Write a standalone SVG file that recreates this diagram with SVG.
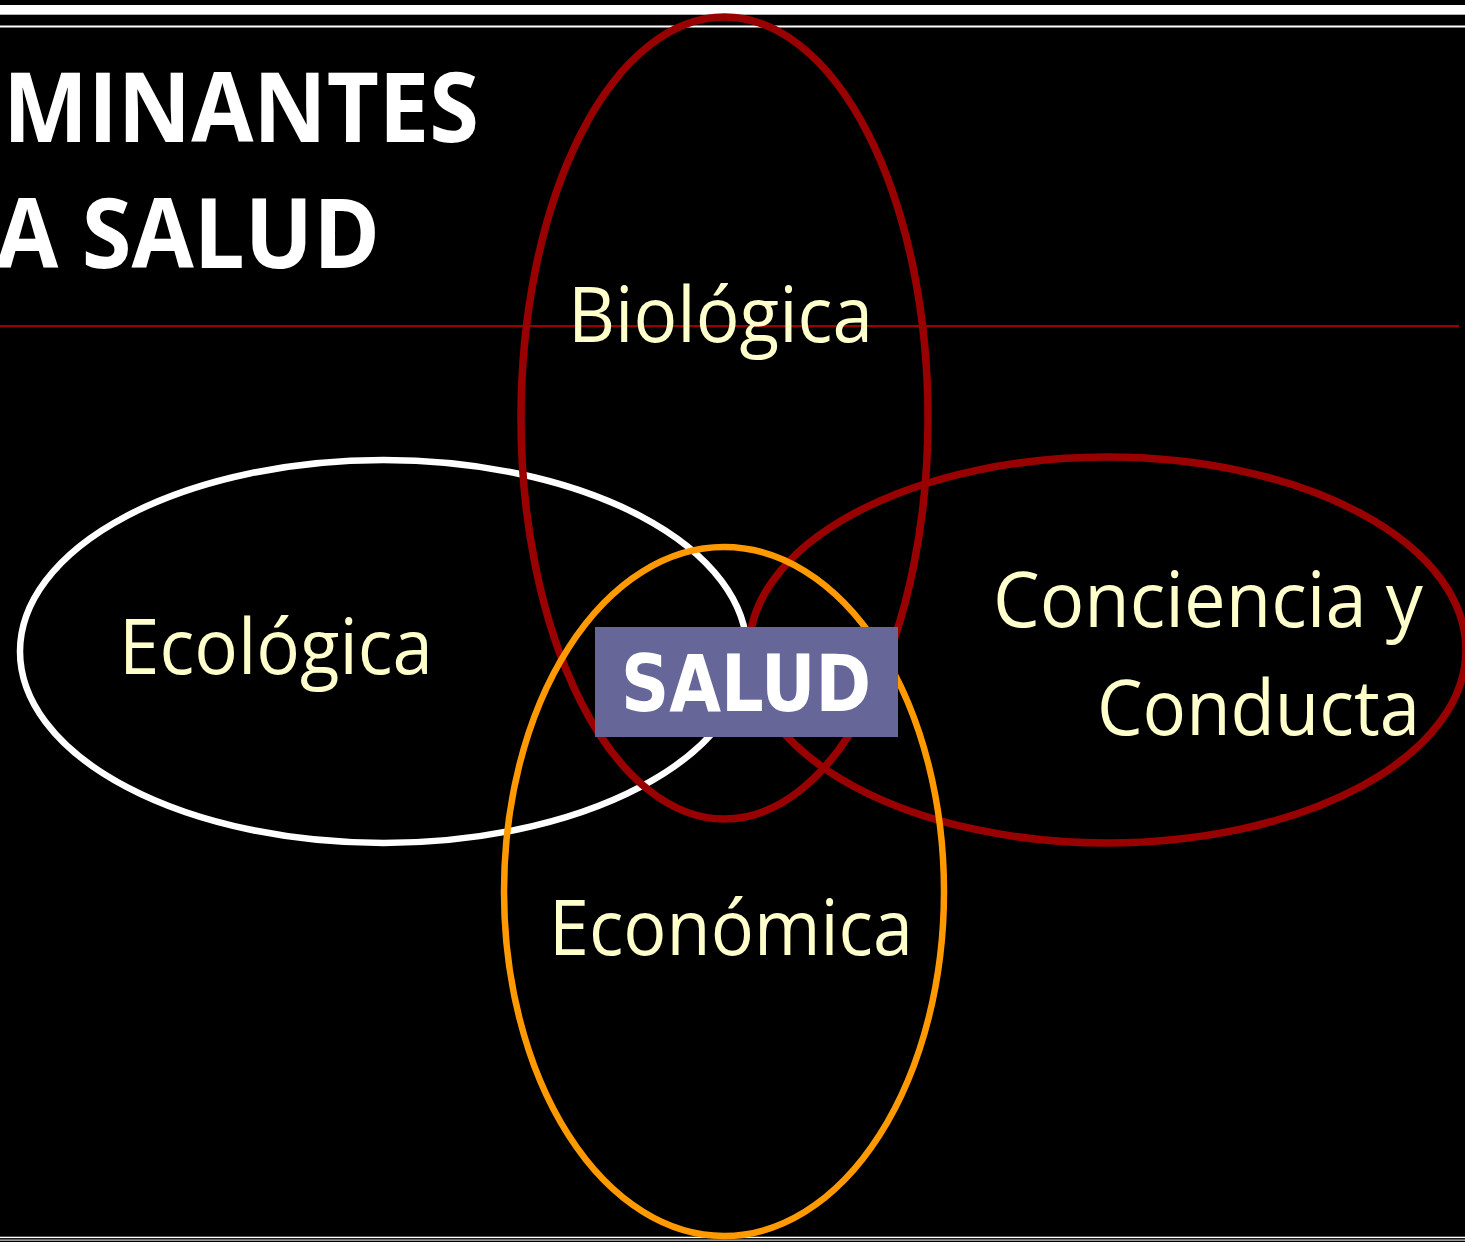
<svg xmlns="http://www.w3.org/2000/svg" width="1465" height="1242" viewBox="0 0 1465 1242">
<style>
.lbl{font-family:"Open Sans","Noto Sans","Liberation Sans",sans-serif;font-size:76px;fill:#FFFFCC}
.title{font-family:"Open Sans","Noto Sans","Liberation Sans",sans-serif;font-size:97px;font-weight:bold;fill:#FFFFFF}
.ell{fill:none}
</style>
<rect x="0" y="0" width="1465" height="1242" fill="#000000"/>
<g id="frame">
<rect x="0" y="5" width="1465" height="9.7" fill="#FFFFFF"/>
<rect x="0" y="25.5" width="1465" height="2" fill="#FFFFFF"/>
<rect x="0" y="1236.7" width="1465" height="1.4" fill="#FFFFFF"/>
<rect x="0" y="1239.6" width="1465" height="1" fill="#FFFFFF"/>
<rect x="0" y="325" width="1459" height="2.2" fill="#990000"/>
</g>
<g id="title">
<text class="title" x="3" y="142" textLength="476" lengthAdjust="spacingAndGlyphs">MINANTES</text>
<text class="title" x="-4" y="268" textLength="384" lengthAdjust="spacingAndGlyphs">A SALUD</text>
</g>
<g id="connectors"></g>
<g id="ecologica">
<ellipse class="ell" cx="383.5" cy="651.5" rx="363.5" ry="191.5" stroke="#FFFFFF" stroke-width="6.5"/>
<text class="lbl" x="119" y="674" textLength="314" lengthAdjust="spacingAndGlyphs">Ecológica</text>
</g>
<g id="biologica">
<ellipse class="ell" cx="724.5" cy="418" rx="203.5" ry="401" stroke="#990000" stroke-width="7.5"/>
<text class="lbl" x="568" y="342" textLength="305" lengthAdjust="spacingAndGlyphs">Biológica</text>
</g>
<g id="conciencia">
<ellipse class="ell" cx="1107.5" cy="650" rx="358.5" ry="193" stroke="#990000" stroke-width="7.5"/>
<text class="lbl" x="993" y="627" textLength="430" lengthAdjust="spacingAndGlyphs">Conciencia y</text>
<text class="lbl" x="1097" y="735" textLength="323" lengthAdjust="spacingAndGlyphs">Conducta</text>
</g>
<g id="economica">
<ellipse class="ell" cx="724" cy="891.5" rx="220" ry="344.5" stroke="#FF9900" stroke-width="6.5"/>
<text class="lbl" x="549" y="955" textLength="364" lengthAdjust="spacingAndGlyphs">Económica</text>
</g>
<g id="salud">
<rect x="595" y="627" width="303" height="110" fill="#666699"/>
<text x="621" y="711" font-family="DejaVu Sans Condensed, DejaVu Sans, sans-serif" font-stretch="condensed" font-weight="bold" font-size="78" fill="#FFFFFF" textLength="250" lengthAdjust="spacingAndGlyphs">SALUD</text>
</g>
</svg>
